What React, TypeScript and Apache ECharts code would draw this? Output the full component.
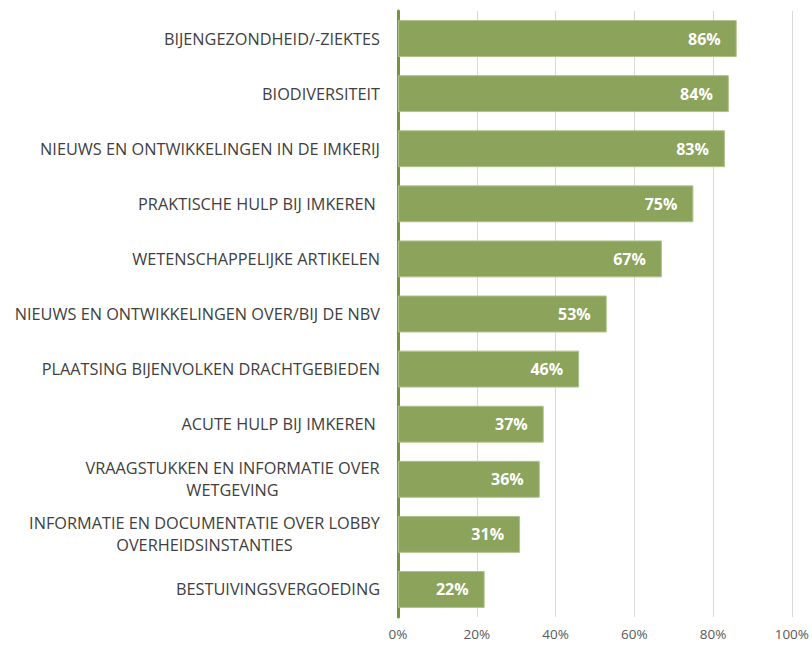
import React, { useEffect, useRef } from "react";
import * as echarts from "echarts";

const categories = [
  "BIJENGEZONDHEID/-ZIEKTES",
  "BIODIVERSITEIT",
  "NIEUWS EN ONTWIKKELINGEN IN DE IMKERIJ",
  "PRAKTISCHE HULP BIJ IMKEREN ",
  "WETENSCHAPPELIJKE ARTIKELEN",
  "NIEUWS EN ONTWIKKELINGEN OVER/BIJ DE NBV",
  "PLAATSING BIJENVOLKEN DRACHTGEBIEDEN",
  "ACUTE HULP BIJ IMKEREN ",
  "VRAAGSTUKKEN EN INFORMATIE OVER\nWETGEVING",
  "INFORMATIE EN DOCUMENTATIE OVER LOBBY\nOVERHEIDSINSTANTIES",
  "BESTUIVINGSVERGOEDING",
];
const values = [86, 84, 83, 75, 67, 53, 46, 37, 36, 31, 22];

const LABEL_FONT = "16.3px 'Open Sans'";

function measure(text: string): number {
  const c = document.createElement("canvas").getContext("2d");
  if (!c) return text.length * 9;
  c.font = LABEL_FONT;
  return c.measureText(text).width;
}

export default function App() {
  const ref = useRef<HTMLDivElement>(null);
  useEffect(() => {
    if (!ref.current) return;
    const chart = echarts.init(ref.current, null, { renderer: "svg" });
    const rich: Record<string, any> = {};
    const labelMap: Record<string, string> = {};
    categories.forEach((cat, i) => {
      if (cat.includes("\n")) {
        const lines = cat.split("\n");
        const w = Math.ceil(Math.max(...lines.map(measure)));
        const key = "w" + i;
        rich[key] = {
          width: w,
          align: "center",
          fontSize: 16.3,
          fontFamily: "Open Sans",
          color: "#404040",
          lineHeight: 22,
        };
        labelMap[cat] = lines.map((l) => `{${key}|${l}}`).join("\n");
      }
    });
    chart.setOption({
      animation: false,
      backgroundColor: "#ffffff",
      grid: { left: 398, right: 19, top: 11, bottom: 28, containLabel: false },
      xAxis: {
        type: "value",
        min: 0,
        max: 100,
        interval: 20,
        axisLine: { show: false },
        axisTick: { show: false },
        splitLine: { show: true, lineStyle: { color: "#D9D9D9", width: 1 } },
        axisLabel: {
          formatter: "{value}%",
          color: "#595959",
          fontFamily: "Open Sans",
          fontSize: 13.5,
          lineHeight: 14,
          margin: 10,
        },
      },
      yAxis: {
        type: "category",
        data: categories,
        inverse: true,
        axisLine: { show: true, lineStyle: { color: "#77933C", width: 3 } },
        axisTick: { show: false },
        axisLabel: {
          color: "#404040",
          fontFamily: "Open Sans",
          fontSize: 16.3,
          margin: 18,
          lineHeight: 22,
          align: "right",
          rich,
          formatter: (v: string) => labelMap[v] ?? v,
        },
      },
      series: [
        {
          type: "bar",
          data: values,
          barCategoryGap: "33%",
          itemStyle: { color: "#8BA35A", borderColor: "#AEC28A", borderWidth: 1 },
          label: {
            show: true,
            position: "insideRight",
            distance: 16,
            formatter: "{c}%",
            color: "#ffffff",
            fontWeight: "bold",
            fontFamily: "Open Sans",
            fontSize: 16,
          },
          z: 1,
        },
      ],
    });
    return () => chart.dispose();
  }, []);
  return (
    <div
      ref={ref}
      style={{ position: "fixed", left: 0, top: 0, width: 812, height: 645 }}
    />
  );
}
